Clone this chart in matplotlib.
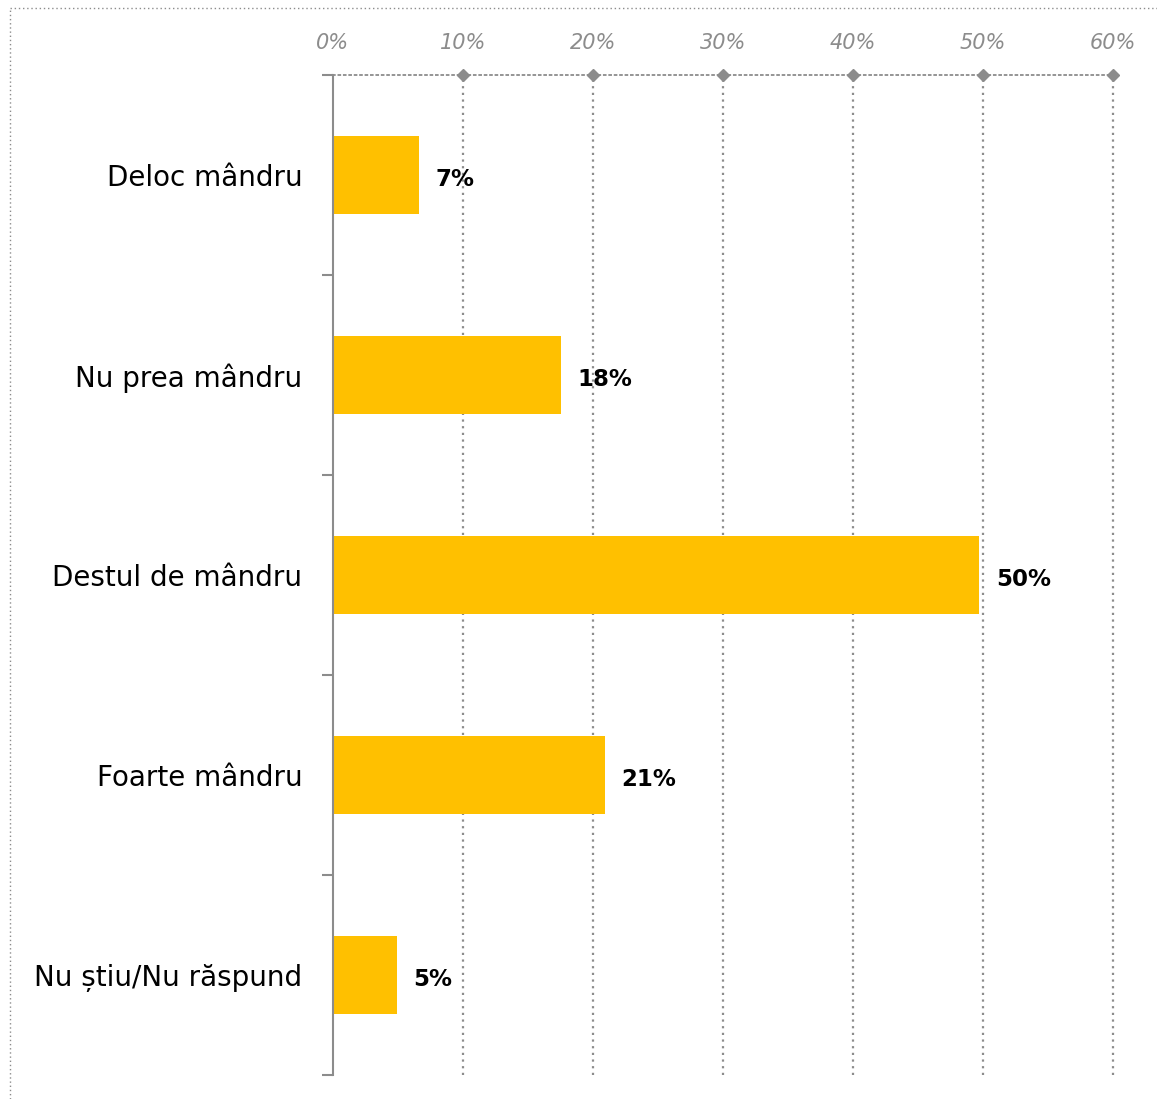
import matplotlib.pyplot as plt
import numpy as np
from matplotlib.lines import Line2D

categories = ['Deloc mândru', 'Nu prea mândru', 'Destul de mândru', 'Foarte mândru', 'Nu știu/Nu răspund']
values = [6.6, 17.5, 49.7, 20.9, 4.9]
value_labels = ['7%', '18%', '50%', '21%', '5%']
x_ticks = [0, 10, 20, 30, 40, 50, 60]

gray = '#8c8c8c'
bar_color = '#FFC000'

plt.rcParams['font.family'] = 'DejaVu Sans'

fig = plt.figure(figsize=(11.57, 10.99), dpi=100)
ax = fig.add_axes([333 / 1157, 1 - 1075 / 1099, 780 / 1157, 1000 / 1099])

y = np.arange(len(categories))
ax.barh(y, values, height=0.39, color=bar_color, zorder=3)

for yi, v, lab in zip(y, values, value_labels):
    ax.text(v + 1.3, yi + 0.02, lab, ha='left', va='center',
            fontsize=16.5, fontweight='bold', color='black', zorder=4)

ax.set_xlim(0, 60)
ax.set_ylim(len(categories) - 0.5, -0.5)

# x axis on top, italic gray labels
ax.xaxis.tick_top()
ax.set_xticks(x_ticks)
ax.set_xticklabels([f'{t}%' for t in x_ticks], fontsize=15, style='italic', color=gray)
ax.tick_params(axis='x', length=0, pad=16)
ax.grid(axis='x', color=gray, linestyle=(0, (1, 2)), linewidth=1.6, zorder=1)
gridlines = ax.get_xgridlines()
for gl in gridlines:
    gl.set_clip_on(False)
gridlines[0].set_visible(False)
ax.plot(x_ticks[1:], [-0.5] * (len(x_ticks) - 1), 'D', color=gray, markersize=6,
        clip_on=False, zorder=5)

# y axis: ticks at band edges, labels at centers
ax.set_yticks(np.arange(-0.5, len(categories), 1.0))
ax.set_yticklabels([])
ax.set_yticks(y, minor=True)
ax.set_yticklabels(categories, minor=True, fontsize=20)
ax.tick_params(axis='y', which='major', direction='out', length=8, color=gray, width=1.5)
ax.tick_params(axis='y', which='minor', length=0, pad=22)

for s in ['right', 'bottom']:
    ax.spines[s].set_visible(False)
ax.spines['left'].set_color(gray)
ax.spines['left'].set_linewidth(1.5)
ax.spines['left'].set_zorder(6)
ax.spines['top'].set_color(gray)
ax.spines['top'].set_linestyle((0, (1, 2)))
ax.spines['top'].set_linewidth(1.3)

# dotted outer frame
fig.add_artist(Line2D([10 / 1157, 1], [1 - 8 / 1099] * 2, transform=fig.transFigure,
                      color=gray, linestyle=(0, (1, 2)), linewidth=1))
fig.add_artist(Line2D([10 / 1157] * 2, [0, 1 - 8 / 1099], transform=fig.transFigure,
                      color=gray, linestyle=(0, (1, 2)), linewidth=1))

fig.savefig('out.png', dpi=100)
